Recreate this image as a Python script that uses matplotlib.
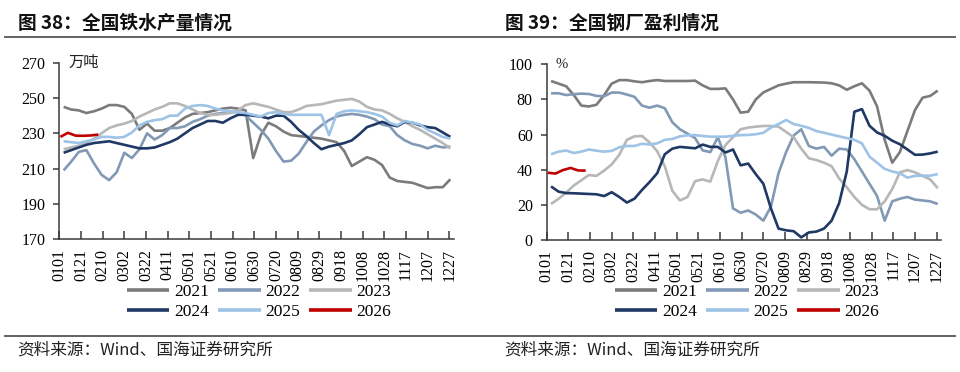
import matplotlib
matplotlib.use("Agg")
import matplotlib.pyplot as plt
from matplotlib.lines import Line2D
import numpy as np

plt.rcParams['font.family'] = ['Noto Sans CJK SC', 'DejaVu Sans']

# ---------------- data ----------------
years = ['2021', '2022', '2023', '2024', '2025', '2026']
colors = ['#7b7b7b', '#8299b6', '#b7b7b7', '#1f3864', '#9dc3e6', '#c00000']
tick_labels = ['0101', '0121', '0210', '0302', '0322', '0411', '0501', '0521', '0610',
               '0630', '0720', '0809', '0829', '0918', '1008', '1028', '1117', '1207', '1227']

week_days = 4 + 7 * np.arange(52)      # weekly observation day-of-year, 2021-2025
days_2026 = 1 + 7 * np.arange(6)

iron_2021 = [245, 243.5, 243, 241.5, 242.5, 244, 246, 246, 245, 241,
             232, 235.5, 231.5, 231.5, 233, 236, 239, 241, 241.5, 242,
             243, 244, 244.5, 244, 243, 216, 229, 236, 234, 231,
             229, 228.5, 228, 227.5, 227, 226, 225, 220, 211.5, 214,
             216.5, 215, 212, 205, 203, 202.5, 202, 200.5, 199, 199.5,
             199.5, 204]
iron_2022 = [209, 214, 219.5, 220.5, 213, 206.5, 203.5, 208, 219, 216,
             221, 230, 226.5, 229, 233, 233, 234, 236.5, 238, 240,
             241, 241.5, 242, 242, 240, 236, 232, 227, 220, 214,
             214.5, 218.5, 225, 231, 234.5, 237.5, 239.5, 240.5, 241, 240.5,
             239.5, 238, 235, 234, 229, 226, 224, 223, 221.5, 223,
             222, 222.5]
iron_2023 = [221, 222, 223, 224.5, 227, 230, 233, 234.5, 235.5, 237,
             239.5, 241.5, 243.5, 245, 247, 247, 245.5, 243.5, 241.5, 240.5,
             240.5, 241, 241.5, 243, 246, 247, 246, 245, 243.5, 242,
             242, 243.5, 245.5, 246, 246.5, 247.5, 248.5, 249, 249.5, 248,
             245, 243.5, 243, 241, 238.5, 236.5, 234, 232, 229.5, 227,
             224.5, 221.5]
iron_2024 = [219, 220.5, 222, 223.5, 224.5, 225, 225.5, 224.5, 223.5, 222.5,
             221.5, 221.5, 222, 223.5, 225, 227, 230, 233, 235, 237,
             237, 236, 238.5, 240.5, 240.5, 240, 239.5, 238.5, 240, 240,
             236.5, 232, 228.5, 224.5, 221, 222.5, 223.5, 224.5, 226, 229.5,
             233.5, 235, 236.5, 235, 234, 236.5, 236, 234.5, 233.5, 233,
             230.5, 228]
iron_2025 = [225.5, 225, 224.5, 225.5, 226.5, 228, 228, 227.5, 228, 230.5,
             234.5, 236.5, 237.5, 238, 240, 240, 244, 245.5, 246, 245.5,
             244, 243, 242.5, 242, 241.5, 240.5, 239.5, 241.5, 242, 241,
             240.5, 240.5, 240.5, 240.5, 240.5, 229, 241, 242.5, 243, 242.5,
             242, 241, 239.5, 236, 234.5, 237, 236, 235, 232, 230,
             228, 227]
iron_2026 = [228.0, 230.3, 228.7, 228.6, 228.8, 229.3]

profit_2021 = [90.5, 89, 87.5, 82.5, 76.5, 76, 77, 82.5, 89, 91,
               91, 90.3, 89.8, 90.5, 91, 90.5, 90.5, 90.5, 90.5, 90.7,
               88, 86, 86, 86.3, 80, 72.5, 73, 80, 84, 86,
               88, 89, 89.8, 89.8, 89.8, 89.7, 89.6, 89.2, 88, 85.5,
               87.5, 89.2, 85, 76, 57, 44, 50, 62, 74, 81,
               82, 85]
profit_2022 = [83.5, 83.5, 82.5, 83, 83.3, 83.1, 82, 81.8, 83.9, 83.9,
               82.8, 81.5, 76.5, 75.3, 76.5, 75, 67, 63, 60.5, 58,
               51, 50, 58.5, 47, 18, 15.5, 16.8, 14.5, 11, 19,
               38, 50, 59.5, 63, 53.5, 52, 53, 48, 52, 51.5,
               46, 39, 32, 25, 11, 22, 23.5, 24.5, 23, 22.5,
               22, 20.5]
profit_2023 = [20.5, 23.5, 27, 31, 34, 37, 36.5, 39.5, 43, 48.5,
               57, 59, 59.2, 55.5, 50.5, 42, 28, 22.5, 24.5, 33.5,
               34.5, 33.2, 45, 54, 58.5, 63, 64, 64.5, 64.9, 64.9,
               64.5, 61.5, 58.5, 52, 46.5, 45.5, 44, 42, 35, 30,
               24.5, 20, 17.5, 17.5, 22, 29, 38.5, 39.8, 38.5, 36.5,
               34.5, 29.5]
profit_2024 = [30.5, 27.5, 26.7, 26.6, 26.4, 26.2, 26, 25, 27.2, 24.5,
               21.3, 23.5, 28.5, 33, 38, 48.8, 52, 53, 52.6, 52.2,
               54.3, 53, 53, 49.8, 51.5, 42.5, 43.5, 37.5, 32, 18,
               6.5, 5.5, 5, 1.5, 4.3, 4.8, 6.5, 11, 21, 39,
               73, 74.5, 65, 61.2, 59.3, 56.5, 54.5, 51.5, 48.5, 48.6,
               49.3, 50.3]
profit_2025 = [48.8, 50.3, 50.9, 49.5, 50.3, 51.5, 50.8, 50.3, 50.7, 52.8,
               53.5, 53.5, 54.8, 54.3, 55, 57, 57.5, 59, 59.6, 59.7,
               59.2, 58.8, 58.8, 58.8, 59.3, 59.7, 59.8, 60.2, 61, 64,
               66, 68.3, 66, 65, 63.8, 62, 61, 60, 59, 58,
               57, 55, 47.5, 44, 40.5, 39, 38, 35.5, 36.5, 36.6,
               36.6, 37.5]
profit_2026 = [38.3, 37.8, 39.8, 41.0, 39.6, 39.5]

iron_series = [iron_2021, iron_2022, iron_2023, iron_2024, iron_2025, iron_2026]
profit_series = [profit_2021, profit_2022, profit_2023, profit_2024, profit_2025, profit_2026]

# ---------------- figure ----------------
W, H = 960, 372
fig = plt.figure(figsize=(W / 100, H / 100), dpi=100)
fig.patch.set_facecolor('white')

def fx(px):
    return px / W

def fy(py):
    return 1 - py / H

serif = 'Liberation Serif'
spine_color = '#3a3a3a'


def make_panel(x0, ytop, ybot, series, ylim, yticks, unit, unit_font, unit_size,
               title, title_x, legend_cx):
    width_px = 394.3
    ax = fig.add_axes([fx(x0), fy(ybot), width_px / W, (ybot - ytop) / H])
    for name, vals, c in zip(years, series, colors):
        xs = days_2026 if name == '2026' else week_days
        ax.plot(xs[:len(vals)], vals, color=c, lw=1.9, label=name,
                solid_joinstyle='round', solid_capstyle='butt')
    ax.set_xlim(0, 364)
    ax.set_ylim(*ylim)
    ax.set_yticks(yticks)
    ax.set_yticklabels([str(v) for v in yticks], fontfamily=serif, fontsize=11.5)
    ax.set_xticks(20 * np.arange(len(tick_labels)))
    ax.set_xticklabels(tick_labels, rotation=90, fontfamily=serif, fontsize=11.5)
    for s in ['top', 'right']:
        ax.spines[s].set_visible(False)
    for s in ['left', 'bottom']:
        ax.spines[s].set_color(spine_color)
        ax.spines[s].set_linewidth(1.1)
    ax.tick_params(axis='y', direction='out', length=4, width=1.1, color=spine_color, pad=6)
    ax.tick_params(axis='x', direction='in', length=6, width=1.1, color=spine_color, pad=7)
    ax.text(0.022, 1.0, unit, transform=ax.transAxes, va='center', ha='left',
            fontsize=unit_size, family=unit_font, color='#222222')
    # legend: row-major order
    handles, labels = ax.get_legend_handles_labels()
    order = [0, 3, 1, 4, 2, 5]
    leg = ax.legend([handles[i] for i in order], [labels[i] for i in order], ncol=3,
                    loc='upper center', bbox_to_anchor=(fx(legend_cx), fy(284)),
                    bbox_transform=fig.transFigure, frameon=False,
                    prop={'family': serif, 'size': 12.5}, handlelength=2.45,
                    handletextpad=0.25, columnspacing=0.55, labelspacing=0.2,
                    borderpad=0, borderaxespad=0)
    for l in leg.get_lines():
        l.set_linewidth(2.6)
    fig.text(fx(title_x), fy(23), title, fontsize=13.5, fontweight='bold',
             ha='left', va='center', color='#111111')
    fig.text(fx(title_x - 1), fy(350), '资料来源：Wind、国海证券研究所', fontsize=12,
             ha='left', va='center', color='#222222')
    return ax


make_panel(59.3, 62.7, 239.3, iron_series, (170, 270), [170, 190, 210, 230, 250, 270],
           '万吨', ['Noto Sans CJK SC'], 11, '图 38：全国铁水产量情况', 18, 259)
make_panel(546.7, 64.3, 240.0, profit_series, (0, 100), [0, 20, 40, 60, 80, 100],
           '%', [serif], 10.5, '图 39：全国钢厂盈利情况', 505, 747)

# separator lines
fig.add_artist(Line2D([fx(5), fx(955)], [fy(37), fy(37)], color='#555555', lw=1.3))
fig.add_artist(Line2D([fx(5), fx(955)], [fy(336), fy(336)], color='#555555', lw=1.3))

fig.savefig('out.png', dpi=100, facecolor='white')
